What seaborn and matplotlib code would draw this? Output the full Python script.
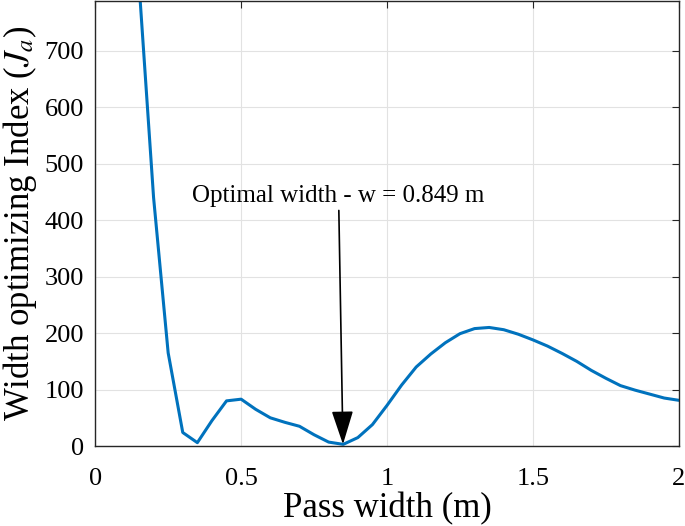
import matplotlib
matplotlib.use("Agg")
import matplotlib.pyplot as plt
import numpy as np
import pandas as pd
import seaborn as sns

# data
pass_width = [0.15, 0.20, 0.25, 0.30, 0.35, 0.40, 0.45, 0.50, 0.55, 0.60,
              0.65, 0.70, 0.75, 0.80, 0.85, 0.90, 0.95, 1.00, 1.05, 1.10,
              1.15, 1.20, 1.25, 1.30, 1.35, 1.40, 1.45, 1.50, 1.55, 1.60,
              1.65, 1.70, 1.75, 1.80, 1.85, 1.90, 1.95, 2.00]
index_ja = [820, 440, 165, 24, 6, 45, 80, 83, 65, 50,
            42, 35, 20, 7, 3, 15, 38, 72, 108, 140,
            163, 183, 199, 208, 210, 206, 198, 188, 177, 164,
            150, 134, 120, 107, 99, 92, 85, 81]
x_ticks = [0, 0.5, 1, 1.5, 2]
x_tick_labels = ["0", "0.5", "1", "1.5", "2"]
y_ticks = [0, 100, 200, 300, 400, 500, 600, 700]
y_tick_labels = ["0", "100", "200", "300", "400", "500", "600", "700"]
opt_w = 0.849
opt_label = "Optimal width - w = 0.849 m"

sns.set_style("whitegrid")
plt.rcParams['font.family'] = ['Liberation Serif', 'DejaVu Serif']
plt.rcParams['mathtext.fontset'] = 'stix'
plt.rcParams['text.color'] = 'black'
plt.rcParams['axes.labelcolor'] = 'black'
plt.rcParams['xtick.color'] = 'black'
plt.rcParams['ytick.color'] = 'black'
plt.rcParams['xtick.labelsize'] = 19
plt.rcParams['ytick.labelsize'] = 19

df = pd.DataFrame({"w": pass_width, "J": index_ja})

fig = plt.figure(figsize=(6.85, 5.26), dpi=100)
ax = fig.add_axes([0.139, 0.152, 0.852, 0.846])

sns.lineplot(data=df, x="w", y="J", ax=ax, color="#0072BD", linewidth=2.2)

ax.set_xlim(0, 2)
ax.set_ylim(0, 788)
ax.set_xticks(x_ticks)
ax.set_xticklabels(x_tick_labels, fontsize=19)
ax.set_yticks(y_ticks)
ax.set_yticklabels(y_tick_labels, fontsize=19)

ax.set_xlabel("Pass width (m)", fontsize=25, labelpad=1)
ax.set_ylabel(r"Width optimizing Index ($J_a$)", fontsize=25, labelpad=4)

ax.tick_params(axis="both", direction="in", length=5,
               top=True, right=True, color="#262626")
ax.tick_params(axis="x", pad=16)
ax.tick_params(axis="y", pad=8)
ax.grid(True, color="#e2e2e2", linewidth=0.8)
for s in ax.spines.values():
    s.set_color("#262626")
    s.set_linewidth(1.0)

ax.annotate(opt_label, xy=(opt_w, 3), xytext=(0.834, 423),
            fontsize=18, ha="center", va="bottom",
            arrowprops=dict(arrowstyle="-|>,head_length=1.4,head_width=0.45",
                            color="black", lw=1.2,
                            mutation_scale=15, shrinkA=0, shrinkB=0))

fig.savefig("out.png", dpi=100)
